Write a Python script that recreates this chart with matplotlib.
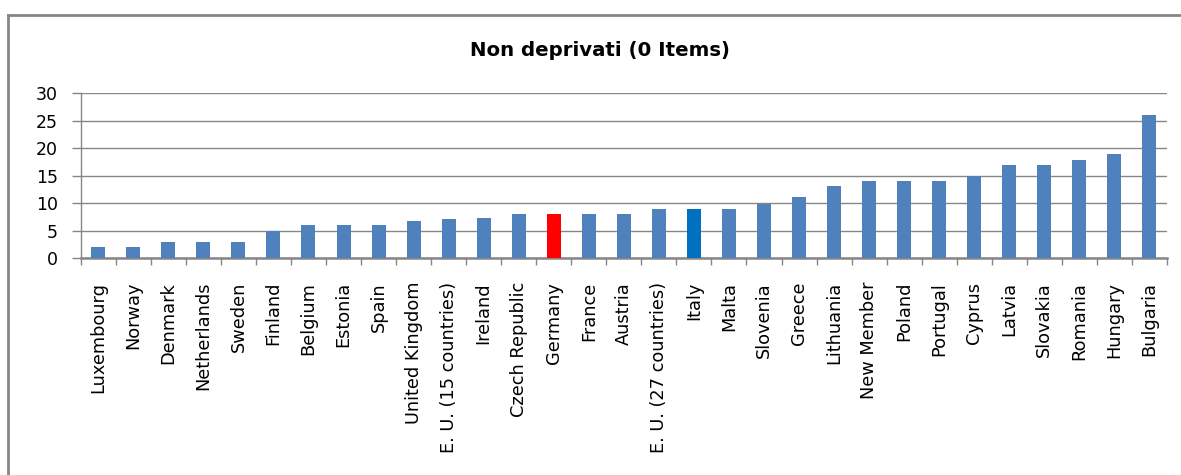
import matplotlib
matplotlib.use("Agg")
import matplotlib.pyplot as plt
from matplotlib.lines import Line2D

categories = ["Luxembourg", "Norway", "Denmark", "Netherlands", "Sweden", "Finland",
              "Belgium", "Estonia", "Spain", "United Kingdom", "E. U. (15 countries)",
              "Ireland", "Czech Republic", "Germany", "France", "Austria",
              "E. U. (27 countries)", "Italy", "Malta", "Slovenia", "Greece",
              "Lithuania", "New Member", "Poland", "Portugal", "Cyprus", "Latvia",
              "Slovakia", "Romania", "Hungary", "Bulgaria"]
values = [2, 2, 3, 3, 3, 5, 6, 6, 6, 6.7, 7.1, 7.4, 8.1, 8.1, 8.1, 8.1,
          8.9, 8.9, 8.9, 9.9, 11.1, 13.1, 14, 14, 14, 14.9, 17, 17, 17.8, 18.9, 26]
highlight = {"Germany": "#FF0000", "Italy": "#0070C0"}
base_color = "#4F81BD"
yticks = [0, 5, 10, 15, 20, 25, 30]
title = "Non deprivati (0 Items)"

plt.rcParams["font.family"] = ["DejaVu Sans"]
gray = "#868686"

fig = plt.figure(figsize=(11.81, 4.75), dpi=100)
ax = fig.add_axes([80.7 / 1181, 1 - 258.3 / 475, (1167 - 80.7) / 1181, (258.3 - 93.3) / 475])

x = list(range(len(categories)))
colors = [highlight.get(c, base_color) for c in categories]
ax.bar(x, values, width=0.4, color=colors, zorder=3)

ax.set_xlim(-0.5, len(categories) - 0.5)
ax.set_ylim(0, 30)
ax.set_yticks(yticks)
ax.set_yticklabels([str(v) for v in yticks], fontsize=12.5)
ax.yaxis.grid(True, color=gray, linewidth=1.0, zorder=0)
ax.set_axisbelow(True)

ax.set_xticks([i - 0.5 for i in range(len(categories) + 1)])
ax.set_xticklabels([])
ax.set_xticks(x, minor=True)
ax.set_xticklabels(categories, minor=True, rotation=90, fontsize=12.8, va="top", ha="center")
ax.tick_params(axis="x", which="major", length=5, width=1, color=gray, direction="out")
ax.tick_params(axis="x", which="minor", length=0, pad=17)
ax.tick_params(axis="y", length=6.5, width=1, color=gray, pad=10)

for s in ["top", "right"]:
    ax.spines[s].set_visible(False)
ax.spines["left"].set_color(gray)
ax.spines["left"].set_linewidth(1.0)
ax.spines["bottom"].set_color(gray)
ax.spines["bottom"].set_linewidth(1.8)

fig.text(600 / 1181, 1 - 50 / 475, title, ha="center", va="center",
         fontsize=14.2, fontweight="bold")

# outer frame (left and top)
fig.add_artist(Line2D([8 / 1181, 8 / 1181], [0, 1 - 15 / 475], transform=fig.transFigure,
                      color=gray, linewidth=2))
fig.add_artist(Line2D([8 / 1181, 1], [1 - 15 / 475, 1 - 15 / 475], transform=fig.transFigure,
                      color=gray, linewidth=2))

fig.savefig("out.png", dpi=100)
